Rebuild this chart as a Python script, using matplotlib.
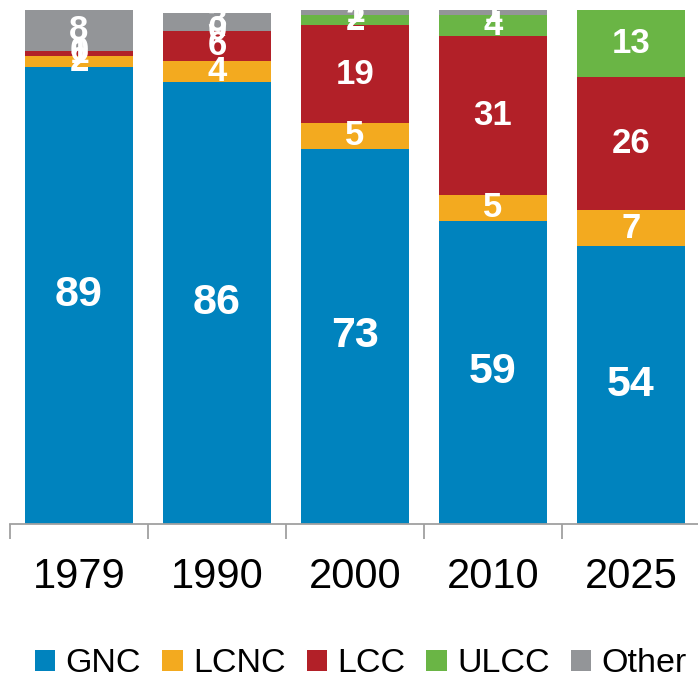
import matplotlib
matplotlib.use("Agg")
import matplotlib.pyplot as plt
import numpy as np

plt.rcParams["font.family"] = ["Liberation Sans", "DejaVu Sans"]

# ── Data (share of seats, %) ─────────────────────────────
years = ["1979", "1990", "2000", "2010", "2025"]
gnc = [89, 86, 73, 59, 54]
lcnc = [2, 4, 5, 5, 7]
lcc = [1, 6, 19, 31, 26]
ulcc = [0, 0, 2, 4, 13]
other = [8, 3.4, 1, 1, np.nan]

series = [
    ("GNC", gnc, "#0083BE"),
    ("LCNC", lcnc, "#F3AA1F"),
    ("LCC", lcc, "#B22028"),
    ("ULCC", ulcc, "#6AB545"),
    ("Other", other, "#939598"),
]

fig = plt.figure(figsize=(6.98, 6.80), dpi=100)
ax = fig.add_axes([10 / 698, 156 / 680, 690 / 698, 514 / 680])

x = np.arange(len(years))
bottom = np.zeros(len(years))
handles = []
for name, vals, color in series:
    v = np.array(vals, dtype=float)
    h = np.nan_to_num(v)
    bars = ax.bar(x, h, width=0.78, bottom=bottom, color=color,
                  label=name, linewidth=0, clip_on=False)
    handles.append(bars)
    for i in range(len(years)):
        if np.isnan(v[i]):
            continue
        size = 31 if name == "GNC" else 25
        ax.text(x[i], bottom[i] + h[i] / 2, f"{v[i]:.0f}",
                ha="center", va="center", color="white",
                fontsize=size, fontweight="bold", clip_on=False)
    bottom += h

ax.set_xlim(-0.5, len(years) - 0.5)
ax.set_ylim(0, 100)
ax.set_yticks([])
for side in ["left", "right", "top"]:
    ax.spines[side].set_visible(False)
ax.spines["bottom"].set_color("#A0A0A0")
ax.spines["bottom"].set_linewidth(1.3)

ax.set_xticks(x)
ax.set_xticklabels(years, fontsize=30)
ax.tick_params(axis="x", which="major", length=0, pad=24)
ax.set_xticks(np.arange(-0.5, len(years), 1.0), minor=True)
ax.tick_params(axis="x", which="minor", length=11, width=1.3,
               color="#A0A0A0", direction="out")

fig.legend(handles=handles, loc="center", bbox_to_anchor=(0.517, 16 / 680),
           ncol=5, frameon=False, fontsize=24.5, handlelength=0.6,
           handleheight=0.6, handletextpad=0.3, columnspacing=0.62,
           borderaxespad=0)

fig.savefig("out.png", dpi=100)
